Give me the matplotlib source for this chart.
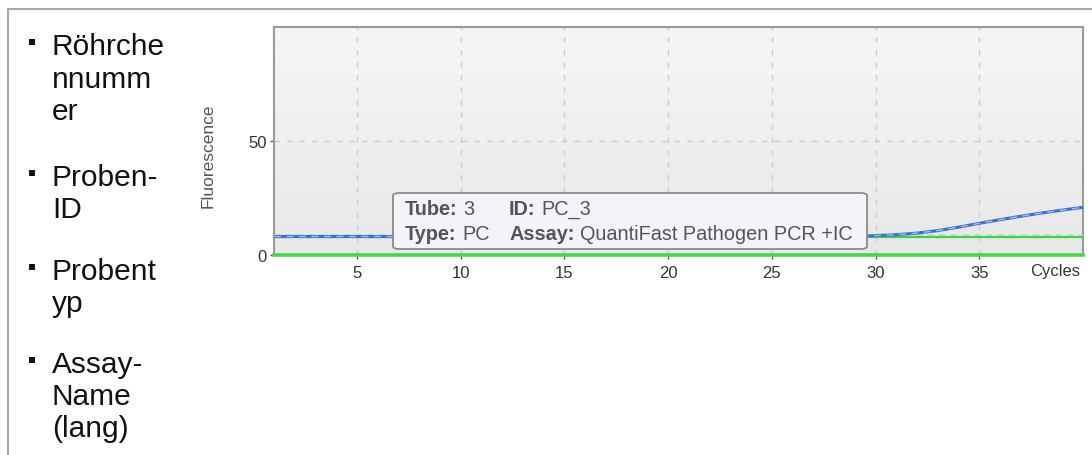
import numpy as np
import matplotlib.pyplot as plt
from matplotlib.colors import LinearSegmentedColormap
from matplotlib.patches import FancyBboxPatch, Rectangle
from matplotlib.lines import Line2D

plt.rcParams['font.family'] = ['Liberation Sans', 'DejaVu Sans']

# amplification data (fluorescence vs. cycle)
cycles = np.arange(1, 41)
tube3_signal = [8.1] * 29 + [8.5, 8.9, 9.6, 10.7, 12.2, 13.9, 15.5, 17.0, 18.4, 19.7, 20.9]
ic_signal = [7.7] * 40
threshold = [8.8] * 40
zero_line = [0.0] * 40

x_ticks = [5, 10, 15, 20, 25, 30, 35]
y_ticks = [0, 50]

bullet_items = [
    ["Röhrche", "nnumm", "er"],
    ["Proben-", "ID"],
    ["Probent", "yp"],
    ["Assay-", "Name", "(lang)"],
]
bullet_baselines = [[55, 88, 120], [186, 218], [280, 312], [373, 405, 437]]

tooltip_rows = [
    [("Tube:", "3"), ("ID:", "PC_3")],
    [("Type:", "PC"), ("Assay:", "QuantiFast Pathogen PCR +IC")],
]

W, H = 1092, 456
fig = plt.figure(figsize=(W / 100, H / 100), dpi=100)


def fx(px):
    return px / W


def fy(py):
    return 1 - py / H


# cell border
fig.add_artist(Line2D([fx(8), 1], [fy(10), fy(10)], color='#a8a8a8', lw=1.5))
fig.add_artist(Line2D([fx(8), fx(8)], [fy(10), 0], color='#a8a8a8', lw=1.5))

# bullet list
for lines, bases in zip(bullet_items, bullet_baselines):
    first = bases[0]
    fig.add_artist(Rectangle((fx(29), fy(first - 9)), fx(6.5), 6.5 / H,
                             color='#111111', lw=0))
    for txt, b in zip(lines, bases):
        fig.text(fx(52), fy(b), txt, fontsize=21.5, color='#111111',
                 ha='left', va='baseline')

# chart
ax = fig.add_axes([fx(274), fy(256), fx(1083) - fx(274), fy(28) - fy(256)])
grad = np.linspace(0, 1, 256).reshape(-1, 1)
ax.imshow(grad, extent=[1, 40, 0, 100], aspect='auto', origin='lower',
          cmap=LinearSegmentedColormap.from_list('bg', ['#e8e8e8', '#f6f6f6']),
          zorder=0)
ax.set_xlim(1, 40)
ax.set_ylim(0, 100)

for xv in x_ticks:
    ax.axvline(xv, color='#cdcdcd', lw=1, ls=(0, (4, 5)), zorder=1)
ax.axhline(50, color='#cdcdcd', lw=1, ls=(0, (4, 5)), zorder=1)

ax.plot(cycles, threshold, color='#a6e3d8', lw=1.2, ls=(0, (4, 3)), zorder=3)
ax.plot(cycles, ic_signal, color='#3fd43f', lw=1.6, zorder=3)
ax.plot(cycles, tube3_signal, color='#3a6fd8', lw=2.2, zorder=4)
ax.plot(cycles, tube3_signal, color='#9cbff0', lw=1.0, ls=(0, (5, 4)), zorder=5)
ax.plot(cycles, zero_line, color='#46d646', lw=2.6, zorder=6, clip_on=False)

ax.set_xticks(x_ticks)
ax.set_yticks(y_ticks)
ax.tick_params(axis='both', colors='#555555', labelcolor='#333333',
               labelsize=12, length=3, width=1)
ax.tick_params(axis='x', pad=4)
ax.tick_params(axis='y', pad=2)
for s in ax.spines.values():
    s.set_color('#9a9a9a')
    s.set_linewidth(1.5)
ax.set_ylabel('Fluorescence', fontsize=12.5, color='#555555')
ax.yaxis.set_label_coords(-0.072, 0.44)
ax.text(0.997, -0.0685, 'Cycles', transform=ax.transAxes, ha='right',
        va='center', fontsize=12, color='#333333')

# tooltip for the hovered tube
box = FancyBboxPatch((fx(393), fy(250)), fx(867) - fx(393), fy(194) - fy(250),
                     boxstyle='round,pad=0,rounding_size=0.006',
                     transform=fig.transFigure, facecolor='#f3f3fa',
                     edgecolor='#8a8a8a', lw=1.3, zorder=10)
fig.add_artist(box)
renderer = fig.canvas.get_renderer()
col_x = [405, 509]
row_y = [210, 234]
for row, py in zip(tooltip_rows, row_y):
    for (label, value), px in zip(row, col_x):
        t = fig.text(fx(px), fy(py), label, fontsize=14.3, color='#555555',
                     fontweight='bold', ha='left', va='center', zorder=11)
        x1 = t.get_window_extent(renderer).x1
        fig.text(fx(x1 + 6), fy(py), value, fontsize=14.3, color='#555555',
                 ha='left', va='center', zorder=11)

fig.savefig('out.png', dpi=100)
